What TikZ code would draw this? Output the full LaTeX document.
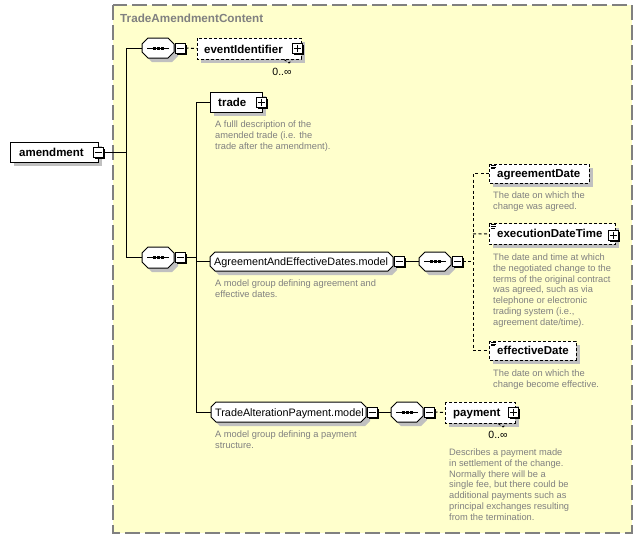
\documentclass[tikz,border=0pt]{standalone}
\usepackage{fontspec}
\setmainfont{Liberation Sans}
\usetikzlibrary{fit,calc}
\definecolor{bgy}{HTML}{FFFFCC}
\definecolor{shd}{HTML}{C0C0C0}
\definecolor{txg}{HTML}{808080}
\definecolor{brd}{HTML}{808080}
\tikzset{
  x=1pt,y=-1pt,
  anchorbox/.style={inner sep=0pt,outer sep=0pt},
  ename/.style={inner sep=0pt,anchor=base west,font=\fontsize{11.5}{14}\selectfont\bfseries},
  gname/.style={inner sep=0pt,anchor=base west,font=\fontsize{10.8}{13}\selectfont},
  desc/.style={inner sep=0pt,anchor=north west,align=left,text=txg,font=\fontsize{9.3}{10.9}\selectfont},
  mult/.style={inner sep=0pt,font=\fontsize{10.5}{12}\selectfont},
  pmb/.style={draw,fill=white,line width=0.9pt,minimum size=10pt,inner sep=0pt,outer sep=0pt},
  conn/.style={line width=1pt},
  dconn/.style={line width=1pt,dash pattern=on 3pt off 2.5pt},
  dbox/.style={line width=1pt,dash pattern=on 3pt off 2pt},
  sbox/.style={line width=1pt},
}
% element box: name, x1, y1, x2, y2, style
\newcommand\elbox[6]{%
  \node[anchorbox,fit={(#2,#3)(#4,#5)}] (#1) {};
  \fill[shd] ([shift={(4,4)}]#1.north west) rectangle ([shift={(4,4)}]#1.south east);
  \draw[fill=white,#6] (#1.north west) rectangle (#1.south east);
}
% octagon path: node, chamfer, shift, options
\newcommand\octo[4]{%
  \path[#4] ([shift={(#2+#3,#3)}]#1.north west) -- ([shift={(-#2+#3,#3)}]#1.north east)
    -- ([shift={(#3,#2+#3)}]#1.north east) -- ([shift={(#3,-#2+#3)}]#1.south east)
    -- ([shift={(-#2+#3,#3)}]#1.south east) -- ([shift={(#2+#3,#3)}]#1.south west)
    -- ([shift={(#3,-#2+#3)}]#1.south west) -- ([shift={(#3,#2+#3)}]#1.north west) -- cycle;
}
% group box (octagon): name, x1, y1, x2, y2, chamfer
\newcommand\grbox[6]{%
  \node[anchorbox,fit={(#2,#3)(#4,#5)}] (#1) {};
  \octo{#1}{#6}{4}{fill=shd}
  \octo{#1}{#6}{0}{draw,fill=white,line width=1pt}
}
% sequence compositor: name, x1, y1, x2, y2
\newcommand\seqbox[5]{%
  \grbox{#1}{#2}{#3}{#4}{#5}{6}
  \draw[line width=1pt] ([shift={(-11,0)}]#1.center) -- ([shift={(11,0)}]#1.center);
  \foreach \dx in {-4,0,4}{\fill ([shift={(\dx-1.5,-1.5)}]#1.center) rectangle ([shift={(\dx+1.5,1.5)}]#1.center);}
}
% minus / plus boxes: name, x, y
\newcommand\minusbox[3]{%
  \fill ([shift={(1.5,1.5)}]#2-5,#3-5) rectangle ([shift={(1.5,1.5)}]#2+5,#3+5);
  \node[pmb] (#1) at (#2,#3) {};
  \draw[line width=1pt] ([shift={(-3.5,0)}]#1.center) -- ([shift={(3.5,0)}]#1.center);
}
\newcommand\plusbox[3]{%
  \minusbox{#1}{#2}{#3}
  \draw[line width=1pt] ([shift={(0,-3.5)}]#1.center) -- ([shift={(0,3.5)}]#1.center);
}
% "documented" icon at top left of a box
\newcommand\docicon[1]{%
  \draw[line width=0.7pt] ([shift={(2,1.3)}]#1.north west) -- +(5,0);
  \draw[line width=0.7pt] ([shift={(2,3)}]#1.north west) -- +(5,0);
  \draw[line width=0.7pt] ([shift={(2,4.7)}]#1.north west) -- +(4,0);
}
\begin{document}
\begin{tikzpicture}
\useasboundingbox (0,0) rectangle (643,539);
\fill[white] (0,0) rectangle (643,539);
% complex type frame
\node[anchorbox,fit={(113,5)(632,533)}] (frame) {};
\draw[fill=bgy,draw=brd,line width=1.6pt,dash pattern=on 15pt off 5pt] (frame.north west) rectangle (frame.south east);
\node[inner sep=0pt,anchor=base west,text=txg,font=\fontsize{11.7}{14}\selectfont\bfseries] (title) at (120,22.5) {TradeAmendmentContent};

% root element
\elbox{amend}{10}{142}{98}{162}{sbox}
\node[ename] (amendt) at (19,156.5) {amendment};
\minusbox{amendm}{98}{152}

% sequence 1 and eventIdentifier
\seqbox{s1}{142}{38}{174}{58}
\minusbox{s1m}{180.5}{48}
\elbox{evt}{197}{38}{301}{59}{dbox}
\draw[dbox,line width=0.8pt] (284,59.5) -- (289,63) -- (292,60);
\node[ename] (evtt) at (204,53) {eventIdentifier};
\plusbox{evtp}{297.5}{48.5}
\node[mult] (evtm) at (282,71.5) {0..∞};

% sequence 2
\seqbox{s2}{142}{247}{174}{268}
\minusbox{s2m}{180.5}{257.5}

% trade
\elbox{trade}{210}{92}{262}{112}{sbox}
\node[ename] (tradet) at (218,106.5) {trade};
\plusbox{tradep}{261.5}{102}
\node[desc] (traded) at (215,120.7) {A fulll description of the\\amended trade (i.e. the\\trade after the amendment).};

% AgreementAndEffectiveDates.model
\grbox{agm}{210}{252}{393}{271}{5}
\node[gname] (agmt) at (214,265.5) {AgreementAndEffectiveDates.model};
\minusbox{agmm}{399.5}{261.5}
\node[desc] (agmd) at (215,280) {A model group defining agreement and\\effective dates.};

\seqbox{s3}{419}{252}{451}{271}
\minusbox{s3m}{457.5}{261.5}

\elbox{agd}{489}{164}{589}{183}{dbox}
\docicon{agd}
\node[ename] (agdt) at (497,177.5) {agreementDate};
\node[desc] (agdd) at (493,191.7) {The date on which the\\change was agreed.};

\elbox{edt}{489}{223.5}{615}{244}{dbox}
\docicon{edt}
\node[ename] (edtt) at (497,237.5) {executionDateTime};
\plusbox{edtp}{613.5}{235}
\node[desc] (edtd) at (493,253.3) {The date and time at which\\the negotiated change to the\\terms of the original contract\\was agreed, such as via\\telephone or electronic\\trading system (i.e.,\\agreement date/time).};

\elbox{eff}{489}{341}{576}{360}{dbox}
\docicon{eff}
\node[ename] (efft) at (497,354.5) {effectiveDate};
\node[desc] (effd) at (493,369.3) {The date on which the\\change become effective.};

% TradeAlterationPayment.model
\grbox{tap}{211}{402}{366}{422}{5}
\node[gname] (tapt) at (215,416) {TradeAlterationPayment.model};
\minusbox{tapm}{372}{412}
\node[desc] (tapd) at (215,430.7) {A model group defining a payment\\structure.};

\seqbox{s4}{391}{402}{423}{422}
\minusbox{s4m}{429.5}{412}

\elbox{pay}{445}{402}{515}{423}{dbox}
\draw[dbox,line width=0.8pt] (498,423.5) -- (503,427) -- (506,424);
\node[ename] (payt) at (453,416.5) {payment};
\plusbox{payp}{513.5}{412}
\node[mult] (paym) at (498,435) {0..∞};
\node[desc] (payd) at (449,448.3) {Describes a payment made\\in settlement of the change.\\Normally there will be a\\single fee, but there could be\\additional payments such as\\principal exchanges resulting\\from the termination.};

% junctions
\coordinate (j1a) at (126,48);
\coordinate (j1b) at (126,257.5);
\coordinate (j1c) at (126,152);
\coordinate (j2a) at (196,102);
\coordinate (j2b) at (196,412);
\coordinate (j2c) at (196,257.5);
\coordinate (j2d) at (196,261.5);
\coordinate (j3a) at (473,173.5);
\coordinate (j3b) at (473,350.5);
\coordinate (j3c) at (473,261.5);
\coordinate (j3d) at (473,234);

% connectors
\draw[conn] (amendm.east) -- (j1c);
\draw[conn] (s1.west) -- (j1a) -- (j1b) -- (s2.west);
\draw[dconn] (s1m.east) -- (evt.west);
\draw[conn] (s2m.east) -- (j2c);
\draw[conn] (trade.west) -- (j2a) -- (j2b) -- (tap.west);
\draw[conn] (j2d) -- (agm.west);
\draw[conn] (agmm.east) -- (s3.west);
\draw[dconn] (s3m.east) -- (j3c);
\draw[dconn] (agd.west) -- (j3a) -- (j3b) -- (eff.west);
\draw[dconn] (j3d) -- (edt.west);
\draw[conn] (tapm.east) -- (s4.west);
\draw[dconn] (s4m.east) -- (pay.west);
\end{tikzpicture}
\end{document}
